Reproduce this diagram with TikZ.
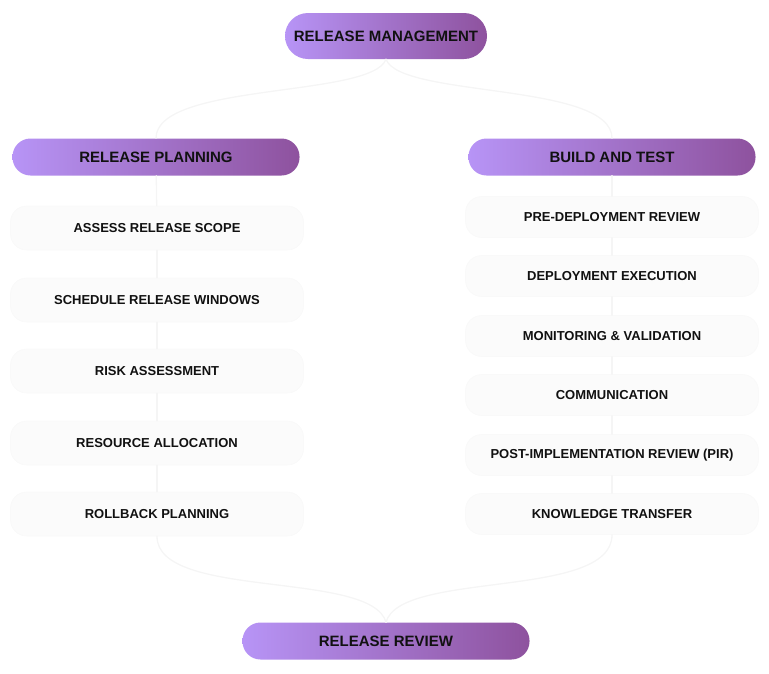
\documentclass[tikz,border=0pt]{standalone}
\usepackage{fontspec}
\setmainfont{Liberation Sans}
\usepackage{tikz}
\usetikzlibrary{shapes}
\definecolor{lilac}{RGB}{183,148,246}
\definecolor{plum}{RGB}{142,82,158}
\definecolor{ink}{RGB}{17,17,17}
\tikzstyle{pill}=[rounded corners=18pt,left color=lilac,right color=plum,
text=ink,font=\bfseries\fontsize{15}{17}\selectfont,inner sep=0pt,minimum width=287pt,minimum height=37pt]
\tikzstyle{step item}=[rounded corners=16pt,fill=black!1.5,draw=black!2.5,line width=0.6pt,
text=ink,font=\bfseries\fontsize{13}{15}\selectfont,inner sep=0pt,minimum width=293pt,minimum height=44pt]
\tikzstyle{faint}=[draw=black!4,line width=1.3pt,line cap=round]

\begin{document}
\begin{tikzpicture}[x=1pt,y=-1pt]
        \useasboundingbox (0,0) rectangle (769,673);
        \node [style=pill,minimum width=202pt,minimum height=46pt,rounded corners=23pt] (rm) at (386,36) {RELEASE MANAGEMENT};
        \node [style=pill] (rp) at (156,157) {RELEASE PLANNING};
        \node [style=pill] (bt) at (612,157) {BUILD AND TEST};
        \node [style=pill] (rr) at (386,641) {RELEASE REVIEW};
        \node [style=step item] (p1) at (157,228) {ASSESS RELEASE SCOPE};
        \node [style=step item] (p2) at (157,300) {SCHEDULE RELEASE WINDOWS};
        \node [style=step item] (p3) at (157,371) {RISK ASSESSMENT};
        \node [style=step item] (p4) at (157,443) {RESOURCE ALLOCATION};
        \node [style=step item] (p5) at (157,514) {ROLLBACK PLANNING};
        \node [style=step item,minimum height=41pt] (b1) at (612,217) {PRE-DEPLOYMENT REVIEW};
        \node [style=step item,minimum height=41pt] (b2) at (612,276) {DEPLOYMENT EXECUTION};
        \node [style=step item,minimum height=41pt] (b3) at (612,336) {MONITORING \& VALIDATION};
        \node [style=step item,minimum height=41pt] (b4) at (612,395) {COMMUNICATION};
        \node [style=step item,minimum height=41pt] (b5) at (612,455) {POST-IMPLEMENTATION REVIEW (PIR)};
        \node [style=step item,minimum height=41pt] (b6) at (612,514) {KNOWLEDGE TRANSFER};
        \draw [style=faint] (rm.south) .. controls (372,98) and (156,82) .. (rp.north);
        \draw [style=faint] (rm.south) .. controls (400,98) and (612,82) .. (bt.north);
        \draw [style=faint] (rp) to (p1);
        \draw [style=faint] (p1) to (p2);
        \draw [style=faint] (p2) to (p3);
        \draw [style=faint] (p3) to (p4);
        \draw [style=faint] (p4) to (p5);
        \draw [style=faint] (bt) to (b1);
        \draw [style=faint] (b1) to (b2);
        \draw [style=faint] (b2) to (b3);
        \draw [style=faint] (b3) to (b4);
        \draw [style=faint] (b4) to (b5);
        \draw [style=faint] (b5) to (b6);
        \draw [style=faint] (p5.south) .. controls (157,600) and (372,570) .. (rr.north);
        \draw [style=faint] (b6.south) .. controls (612,600) and (400,570) .. (rr.north);
    \end{tikzpicture}
\end{document}
